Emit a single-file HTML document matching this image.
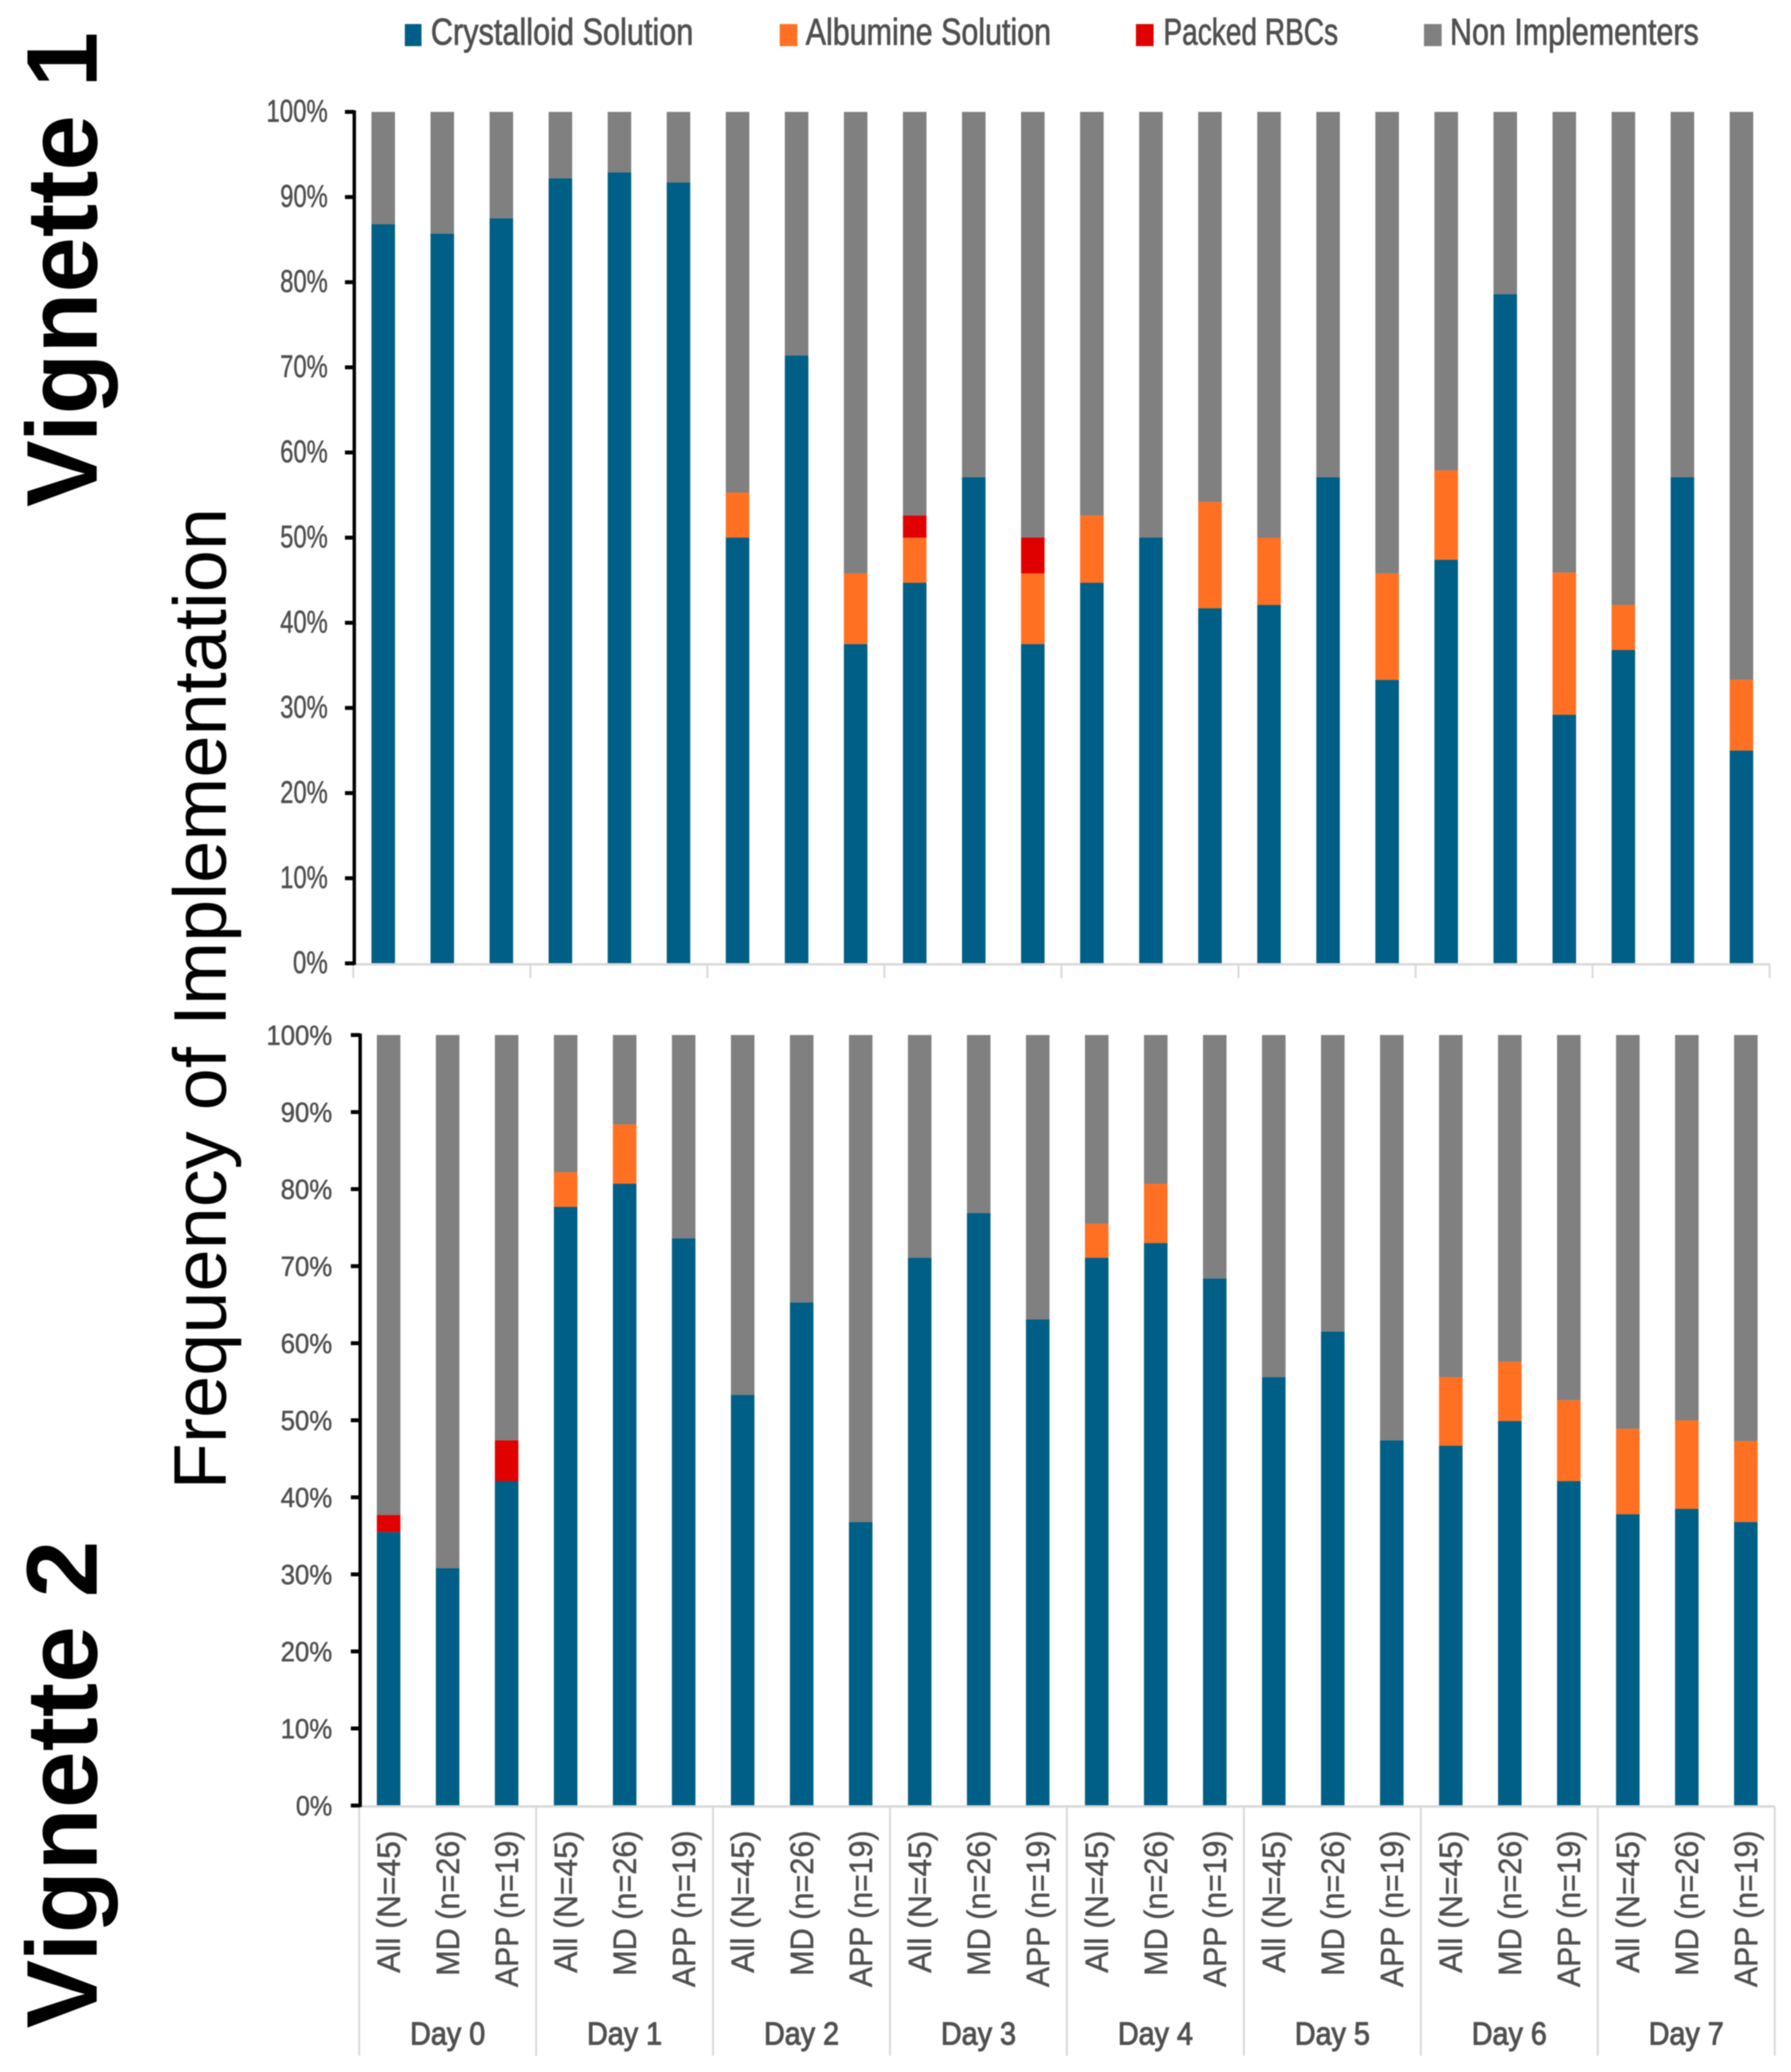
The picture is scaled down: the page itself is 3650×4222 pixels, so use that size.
<!DOCTYPE html>
<html lang="en">
<head>
<meta charset="utf-8">
<title>Frequency of Implementation by Vignette</title>
<style>
  html,body{margin:0;padding:0;background:#fff;}
  svg{display:block;filter:blur(1px);}
  text{font-family:"Liberation Sans",sans-serif;}
</style>
</head>
<body>
<svg id="chart" xmlns="http://www.w3.org/2000/svg" width="3650" height="4222" viewBox="0 0 3650 4222">
  <rect x="0" y="0" width="3650" height="4222" fill="#ffffff"/>
  <text transform="translate(197,1033) rotate(-90)" font-size="205" font-weight="700" fill="#000" textLength="968" lengthAdjust="spacingAndGlyphs">Vignette 1</text>
  <text transform="translate(197,4133) rotate(-90)" font-size="205" font-weight="700" fill="#000" textLength="994" lengthAdjust="spacingAndGlyphs">Vignette 2</text>
  <text transform="translate(460,3035) rotate(-90)" font-size="152" fill="#000" textLength="2000" lengthAdjust="spacingAndGlyphs">Frequency of Implementation</text>

  <g>
    <g>
      <rect x="825" y="49" width="34" height="45" fill="#005f86"/>
      <text x="878" y="91" font-size="76" fill="#505050" stroke="#505050" stroke-width="1.5" textLength="535" lengthAdjust="spacingAndGlyphs">Crystalloid Solution</text>
    </g>
    <g>
      <rect x="1589" y="49" width="36" height="45" fill="#ff7022"/>
      <text x="1642" y="91" font-size="76" fill="#505050" stroke="#505050" stroke-width="1.5" textLength="500" lengthAdjust="spacingAndGlyphs">Albumine Solution</text>
    </g>
    <g>
      <rect x="2315" y="49" width="36" height="45" fill="#e00000"/>
      <text x="2371" y="91" font-size="76" fill="#505050" stroke="#505050" stroke-width="1.5" textLength="356" lengthAdjust="spacingAndGlyphs">Packed RBCs</text>
    </g>
    <g>
      <rect x="2902" y="49" width="36" height="45" fill="#808080"/>
      <text x="2955" y="91" font-size="76" fill="#505050" stroke="#505050" stroke-width="1.5" textLength="507" lengthAdjust="spacingAndGlyphs">Non Implementers</text>
    </g>
  </g>
  <g id="panel1"></g>
  <g id="panel2"></g>
</svg>
<script>
const dayLabels = ["Day 0","Day 1","Day 2","Day 3","Day 4","Day 5","Day 6","Day 7"];
const groupLabels = ["All (N=45)","MD (n=26)","APP (n=19)"];
const yTickLabels = ["0%","10%","20%","30%","40%","50%","60%","70%","80%","90%","100%"];
const yTickValues = [0,10,20,30,40,50,60,70,80,90,100];

const v1Crystalloid = [86.8,85.7,87.5, 92.2,92.9,91.7, 50,71.4,37.5, 44.7,57.1,37.5, 44.7,50,41.7, 42.1,57.1,33.3, 47.4,78.6,29.2, 36.8,57.1,25];
const v1Albumine    = [0,0,0, 0,0,0, 5.3,0,8.3, 5.3,0,8.3, 7.9,0,12.5, 7.9,0,12.5, 10.5,0,16.7, 5.3,0,8.3];
const v1PackedRBCs  = [0,0,0, 0,0,0, 0,0,0, 2.6,0,4.2, 0,0,0, 0,0,0, 0,0,0, 0,0,0];
const v1NonImpl     = [13.2,14.3,12.5, 7.8,7.1,8.3, 44.7,28.6,54.2, 47.4,42.9,50, 47.4,50,45.8, 50,42.9,54.2, 42.1,21.4,54.1, 57.9,42.9,66.7];

const v2Crystalloid = [35.5,30.8,42.1, 77.7,80.7,73.6, 53.3,65.3,36.8, 71.1,76.9,63.1, 71.1,73.0,68.4, 55.6,61.5,47.4, 46.7,49.9,42.1, 37.8,38.5,36.8];
const v2Albumine    = [0,0,0, 4.5,7.7,0, 0,0,0, 0,0,0, 4.4,7.7,0, 0,0,0, 8.9,7.7,10.5, 11.1,11.5,10.5];
const v2PackedRBCs  = [2.2,0,5.3, 0,0,0, 0,0,0, 0,0,0, 0,0,0, 0,0,0, 0,0,0, 0,0,0];
const v2NonImpl     = [62.3,69.2,52.6, 17.8,11.6,26.4, 46.7,34.7,63.2, 28.9,23.1,36.9, 24.5,19.3,31.6, 44.4,38.5,52.6, 44.4,42.4,47.4, 51.1,50,52.7];

const NS = "http://www.w3.org/2000/svg";
const seriesNames = ["crystalloid","albumine","packed-rbcs","non-implementers"];
const seriesColors = ["#005f86","#ff7022","#e00000","#808080"];

function el(parent, tag, props) {
  const node = document.createElementNS(NS, tag);
  for (const k in props) node.setAttribute(k, props[k]);
  parent.appendChild(node);
  return node;
}

function drawPanel(root, key, series, g) {
  const yScale = v => g.y0 - (g.y0 - g.y100) * v / 100;
  const xScale = i => g.c0 + g.pitch * i;

  // bars
  const n = series[0].length;
  for (let i = 0; i < n; i++) {
    let cum = 0;
    for (let s = 0; s < series.length; s++) {
      const v = series[s][i];
      if (v <= 0) continue;
      const top = yScale(cum + v);
      const bottom = yScale(cum);
      const r = el(root, "rect", {x: xScale(i) - g.bar / 2, y: top, width: g.bar, height: bottom - top, fill: seriesColors[s]});
      
      
      cum += v;
    }
  }

  // category baseline
  const base = el(root, "line", {x1: g.sep0, x2: g.sep0 + g.sepStep * dayLabels.length, y1: g.y0 + 2, y2: g.y0 + 2, stroke: "#d9d9d9", "stroke-width": 5});
  
  

  // group separators
  for (let d = 0; d <= dayLabels.length; d++) {
    const x = g.sep0 + g.sepStep * d;
    const sep = el(root, "line", {x1: x, x2: x, y1: g.y0 + 2, y2: g.sepEnd, stroke: "#d9d9d9", "stroke-width": 4});
    
    
  }

  // y axis
  const axis = el(root, "line", {x1: g.axisX, x2: g.axisX, y1: g.y100 - 3, y2: g.y0 + 3, stroke: "#000", "stroke-width": 7});
  
  

  yTickValues.forEach((v, idx) => {
    const y = yScale(v);
    const t = el(root, "line", {x1: g.axisX - 19, x2: g.axisX, y1: y, y2: y, stroke: "#000", "stroke-width": 8});
    
    
    const label = yTickLabels[idx];
    const w = label.length === 4 ? g.w4 : (label.length === 3 ? g.w3 : g.w2);
    const tx = el(root, "text", {x: g.tickRight, y: y + g.tickDy, "text-anchor": "end", "font-size": g.tickSize, fill: "#505050", stroke: "#505050", "stroke-width": 1, textLength: w, lengthAdjust: "spacingAndGlyphs"});
    tx.textContent = label;
    
    
  });
}

drawPanel(document.getElementById("panel1"), "vignette-1",
  [v1Crystalloid, v1Albumine, v1PackedRBCs, v1NonImpl],
  {y0: 1963, y100: 228, c0: 781, pitch: 120.35, bar: 48, sep0: 720, sepStep: 360.8, sepEnd: 1993,
   axisX: 722, tickRight: 668, tickDy: 20, tickSize: 64, w4: 125, w3: 97, w2: 71});

drawPanel(document.getElementById("panel2"), "vignette-2",
  [v2Crystalloid, v2Albumine, v2PackedRBCs, v2NonImpl],
  {y0: 3679, y100: 2109, c0: 792, pitch: 120.26, bar: 48, sep0: 732, sepStep: 360.6, sepEnd: 4189,
   axisX: 734, tickRight: 677, tickDy: 20, tickSize: 57, w4: 134, w3: 105, w2: 74});

// category labels (shared, under the bottom panel)
const catRoot = document.getElementById("panel2");
const catLengths = [290, 296, 319];
dayLabels.forEach((day, d) => {
  groupLabels.forEach((lab, k) => {
    const cx = 792 + 120.26 * (d * 3 + k);
    const t = el(catRoot, "text", {transform: "translate(" + (cx + 23) + ",3730) rotate(-90)", "text-anchor": "end", "font-size": 66, fill: "#505050", stroke: "#505050", "stroke-width": 1, textLength: catLengths[k], lengthAdjust: "spacingAndGlyphs"});
    t.textContent = lab;
    
    
  });
  const dx = 732 + 360.6 * (d + 0.5);
  const dt = el(catRoot, "text", {x: dx, y: 4166, "text-anchor": "middle", "font-size": 65, fill: "#505050", stroke: "#505050", "stroke-width": 2, textLength: 153, lengthAdjust: "spacingAndGlyphs"});
  dt.textContent = day;
  
  
});
</script>
</body>
</html>
